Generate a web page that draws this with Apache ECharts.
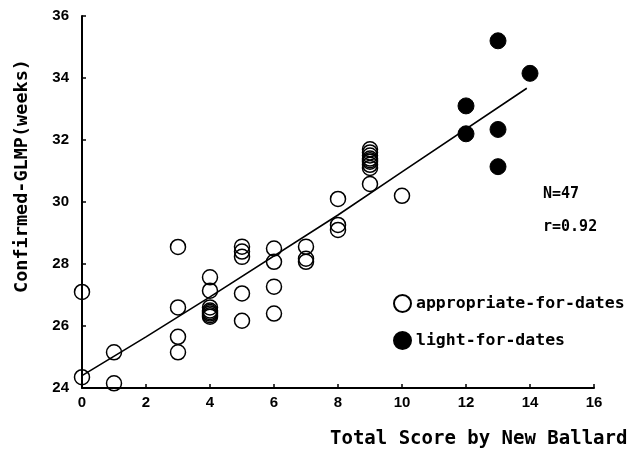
<!DOCTYPE html>
<html><head><meta charset="utf-8">
<script src="https://cdn.jsdelivr.net/npm/echarts@6/dist/echarts.min.js"></script>
<style>html,body{margin:0;padding:0;background:#fff}#c{width:644px;height:458px}</style>
</head><body><div id="c"></div>
<script>
// Data
const xTicks = [0, 2, 4, 6, 8, 10, 12, 14, 16];
const yTicks = [24, 26, 28, 30, 32, 34, 36];
const appropriateX = [0, 0, 1, 1, 3, 3, 3, 3, 4, 4, 4, 4, 4, 4, 4, 4, 5, 5, 5, 5, 5, 6, 6, 6, 6, 7, 7, 7, 8, 8, 8, 9, 9, 9, 9, 9, 9, 9, 9, 9, 10];
const appropriateY = [27.1, 24.35, 25.15, 24.15, 28.55, 26.6, 25.65, 25.15, 27.57, 27.14, 26.3, 26.35, 26.4, 26.45, 26.5, 26.6, 28.56, 28.4, 28.23, 27.05, 26.17, 28.5, 28.07, 27.27, 26.4, 28.56, 28.17, 28.07, 30.1, 29.26, 29.1, 31.1, 31.2, 31.3, 31.35, 31.4, 31.5, 31.6, 31.7, 30.58, 30.2];
const lightX = [12, 12, 13, 13, 13, 14];
const lightY = [33.1, 32.2, 35.2, 32.34, 31.14, 34.15];
const fitX = [0, 2, 4, 8, 10, 13.9];
const fitY = [24.4, 25.65, 26.94, 29.58, 30.97, 33.67];
const seriesNames = ['appropriate-for-dates', 'light-for-dates'];
const statsText = ['N=47', 'r=0.92'];
const xTitle = 'Total Score by New Ballard';
const yTitle = 'Confirmed-GLMP(weeks)';

const zip = (a, b) => a.map((v, i) => [v, b[i]]);
const FONT = '"DejaVu Sans Mono", monospace';
const TICKFONT = '"Liberation Sans Narrow", "Liberation Sans", sans-serif';
const chart = echarts.init(document.getElementById('c'), null, {renderer: 'canvas'});
chart.setOption({
  animation: false,
  backgroundColor: '#fff',
  grid: {left: 82, right: 50, top: 16, bottom: 70, containLabel: false},
  xAxis: {
    type: 'value', min: xTicks[0], max: xTicks[xTicks.length - 1], interval: 2,
    axisLine: {show: true, onZero: false, lineStyle: {color: '#000', width: 2}},
    axisTick: {show: true, inside: true, length: 4, lineStyle: {color: '#000', width: 1.5}},
    axisLabel: {color: '#000', fontFamily: TICKFONT, fontWeight: 'bold', fontSize: 15, margin: 7},
    splitLine: {show: false}
  },
  yAxis: {
    type: 'value', min: yTicks[0], max: yTicks[yTicks.length - 1], interval: 2,
    axisLine: {show: true, onZero: false, lineStyle: {color: '#000', width: 2}},
    axisTick: {show: true, inside: true, length: 4, lineStyle: {color: '#000', width: 1.5}},
    axisLabel: {color: '#000', fontFamily: TICKFONT, fontWeight: 'bold', fontSize: 15, margin: 13},
    splitLine: {show: false}
  },
  legend: {
    data: seriesNames, orient: 'vertical', left: 388, top: 289,
    itemWidth: 17, itemHeight: 17, itemGap: 18,
    textStyle: {color: '#000', fontFamily: FONT, fontWeight: 'bold', fontSize: 16.5}
  },
  graphic: [
    {type: 'text', left: 543, top: 187, style: {text: statsText[0], fill: '#000', font: 'bold 15px ' + FONT}},
    {type: 'text', left: 543, top: 220, style: {text: statsText[1], fill: '#000', font: 'bold 15px ' + FONT}},
    {type: 'text', left: 330, top: 430, style: {text: xTitle, fill: '#000', font: 'bold 19px ' + FONT}},
    {type: 'text', x: 22, y: 176, rotation: Math.PI / 2,
     style: {text: yTitle, fill: '#000', font: 'bold 18.5px ' + FONT, align: 'center', verticalAlign: 'middle'}}
  ],
  series: [
    {
      type: 'line', data: zip(fitX, fitY), showSymbol: false, symbol: 'none',
      lineStyle: {color: '#000', width: 1.6}, z: 1, silent: true
    },
    {
      name: seriesNames[0], type: 'scatter', data: zip(appropriateX, appropriateY),
      symbol: 'circle', symbolSize: 15,
      itemStyle: {color: 'rgba(255,255,255,0)', borderColor: '#000', borderWidth: 1.5, opacity: 1}, z: 3
    },
    {
      name: seriesNames[1], type: 'scatter', data: zip(lightX, lightY),
      symbol: 'circle', symbolSize: 16,
      itemStyle: {color: '#000', borderColor: '#000', borderWidth: 1, opacity: 1}, z: 3
    }
  ]
});
</script></body></html>
